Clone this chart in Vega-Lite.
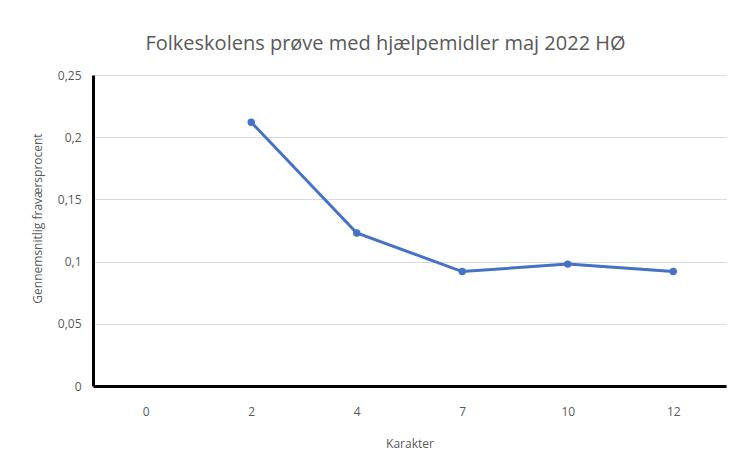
{
  "$schema": "https://vega.github.io/schema/vega-lite/v6.json",
  "width": 633,
  "height": 311,
  "autosize": {"type": "none"},
  "padding": {"left": 93, "top": 75, "right": 8, "bottom": 67},
  "background": "white",
  "title": {
    "text": "Folkeskolens prøve med hjælpemidler maj 2022 HØ",
    "font": "Open Sans",
    "fontSize": 20,
    "fontWeight": "normal",
    "color": "#595959",
    "anchor": "middle",
    "dx": -24,
    "offset": 15
  },
  "data": {
    "values": [
      {"Karakter": "2", "Fravaer": 0.212},
      {"Karakter": "4", "Fravaer": 0.123},
      {"Karakter": "7", "Fravaer": 0.092},
      {"Karakter": "10", "Fravaer": 0.098},
      {"Karakter": "12", "Fravaer": 0.092}
    ]
  },
  "mark": {"type": "line", "color": "#4472C4", "strokeWidth": 3, "point": {"filled": true, "size": 55, "color": "#4472C4"}},
  "encoding": {
    "x": {
      "field": "Karakter",
      "type": "ordinal",
      "sort": null,
      "scale": {"type": "point", "domain": ["0", "2", "4", "7", "10", "12"], "padding": 0.5},
      "axis": {
        "title": "Karakter",
        "labelAngle": 0,
        "grid": false,
        "ticks": false,
        "domainColor": "black",
        "domainWidth": 3,
        "labelPadding": 20,
        "titlePadding": 21,
        "labelFont": "Open Sans",
        "titleFont": "Open Sans",
        "labelFontSize": 12,
        "titleFontSize": 12,
        "titleFontWeight": "normal",
        "labelColor": "#595959",
        "titleColor": "#595959"
      }
    },
    "y": {
      "field": "Fravaer",
      "type": "quantitative",
      "scale": {"domain": [0, 0.25], "nice": false},
      "axis": {
        "title": "Gennemsnitlig fraværsprocent",
        "values": [0, 0.05, 0.1, 0.15, 0.2, 0.25],
        "labelExpr": "replace(toString(datum.value), '.', ',')",
        "grid": true,
        "gridColor": "#d9d9d9",
        "gridWidth": 1,
        "ticks": false,
        "domainColor": "black",
        "domainWidth": 3,
        "labelPadding": 12,
        "titlePadding": 13,
        "titleY": 143,
        "labelFont": "Open Sans",
        "titleFont": "Open Sans",
        "labelFontSize": 12,
        "titleFontSize": 12,
        "titleFontWeight": "normal",
        "labelColor": "#595959",
        "titleColor": "#595959"
      }
    }
  },
  "config": {"view": {"stroke": null}}
}
